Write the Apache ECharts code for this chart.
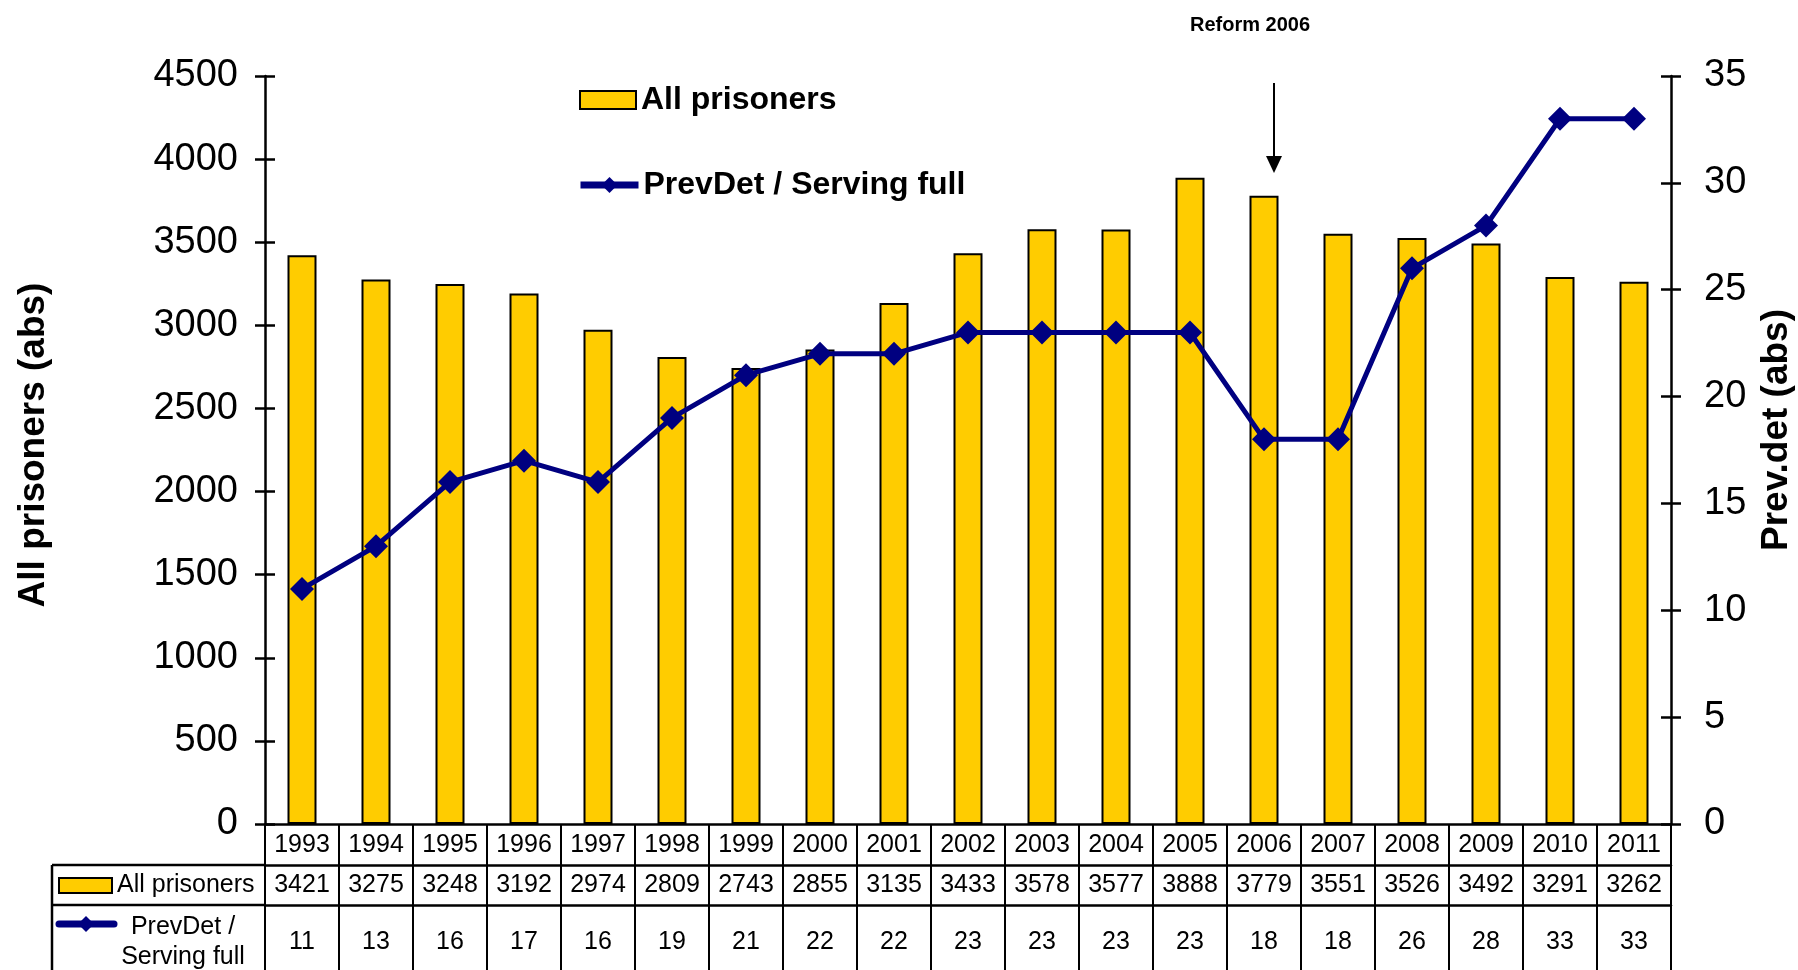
<!DOCTYPE html>
<html><head><meta charset="utf-8">
<script src="https://cdn.jsdelivr.net/npm/echarts@6/dist/echarts.min.js"></script>
<style>html,body{margin:0;padding:0;background:#fff}#c{width:1798px;height:970px}</style>
</head><body><div id="c"></div>
<script>
const years = ['1993','1994','1995','1996','1997','1998','1999','2000','2001','2002','2003','2004','2005','2006','2007','2008','2009','2010','2011'];
const allPrisoners = [3421,3275,3248,3192,2974,2809,2743,2855,3135,3433,3578,3577,3888,3779,3551,3526,3492,3291,3262];
const prevDet = [11,13,16,17,16,19,21,22,22,23,23,23,23,18,18,26,28,33,33];
const leftAxis = {min: 0, max: 4500, interval: 500};
const rightAxis = {min: 0, max: 35, interval: 5};
const barName = 'All prisoners';
const lineName = 'PrevDet / Serving full';
const reformLabel = 'Reform 2006';
const reformYear = '2006';

const FONT = 'Liberation Sans, Arial, sans-serif';
const BLACK = '#000';
const YELLOW = '#FFCC00';
const NAVY = '#000080';

const chart = echarts.init(document.getElementById('c'), null, {renderer: 'canvas'});

function xAx(offset, tickLen, margin, fmt) {
  return {
    type: 'category', data: years, position: 'bottom', offset: offset, boundaryGap: true,
    axisLine: {show: true, onZero: false, lineStyle: {color: BLACK, width: 2.5}},
    axisTick: {show: true, interval: 0, length: tickLen, lineStyle: {color: BLACK, width: 2}},
    axisLabel: {show: true, interval: 0, margin: margin, fontSize: 25, color: BLACK, fontFamily: FONT,
      formatter: fmt},
    splitLine: {show: false}
  };
}
function yAx(pos, cfg, showMain, labelMargin) {
  return {
    type: 'value', position: pos, min: cfg.min, max: cfg.max, interval: cfg.interval,
    axisLine: {show: showMain, lineStyle: {color: BLACK, width: 2.5}},
    axisTick: {show: true, inside: !showMain, length: 10, lineStyle: {color: BLACK, width: 2.5}},
    axisLabel: {show: showMain, margin: labelMargin, fontSize: 38, color: BLACK, fontFamily: FONT,
      formatter: v => String(v)},
    splitLine: {show: false}
  };
}

const option = {
  animation: false,
  backgroundColor: '#fff',
  textStyle: {fontFamily: FONT},
  grid: {left: 265, right: 127, top: 76, bottom: 146},
  legend: [
    {data: [{name: barName, icon: 'rect', itemStyle: {color: YELLOW, borderColor: BLACK, borderWidth: 2}}],
     left: 579, top: 84, padding: 0, itemWidth: 56, itemHeight: 18,
     textStyle: {fontSize: 32, fontWeight: 'bold', color: BLACK, fontFamily: FONT}},
    {data: [{name: lineName, itemStyle: {color: NAVY}, lineStyle: {color: NAVY, width: 7}}],
     left: 577, top: 169, padding: 0, itemWidth: 58, itemHeight: 20,
     textStyle: {fontSize: 32, fontWeight: 'bold', color: BLACK, fontFamily: FONT}}
  ],
  xAxis: [
    xAx(0, 41, 9, null),
    xAx(41, 40, 8, (v, i) => String(allPrisoners[i])),
    xAx(81, 90, 25, (v, i) => String(prevDet[i]))
  ],
  yAxis: [
    yAx('left', leftAxis, true, 27),
    yAx('right', rightAxis, true, 33),
    yAx('left', leftAxis, false, 0),
    yAx('right', rightAxis, false, 0)
  ],
  series: [
    {name: barName, type: 'bar', xAxisIndex: 0, yAxisIndex: 0, data: allPrisoners, barWidth: 29,
     itemStyle: {color: YELLOW, borderColor: BLACK, borderWidth: 2}},
    {name: lineName, type: 'line', xAxisIndex: 0, yAxisIndex: 1, data: prevDet,
     symbol: 'diamond', symbolSize: 24, z: 5,
     lineStyle: {color: NAVY, width: 5}, itemStyle: {color: NAVY}}
  ]
};
chart.setOption(option);

// Table left column and annotations, positioned from the axes
const c0 = chart.convertToPixel({xAxisIndex: 0}, years[0]);
const c1 = chart.convertToPixel({xAxisIndex: 0}, years[1]);
const bw = c1 - c0;
const gridL = c0 - bw / 2;
const base = chart.convertToPixel({yAxisIndex: 0}, 0);
const r1 = base + 41, r2 = base + 81;
const tabL = 52;
const cr = chart.convertToPixel({xAxisIndex: 0}, reformYear);

const ls = {stroke: BLACK, lineWidth: 2.5};
const graphics = [
  {type: 'line', shape: {x1: tabL, y1: r1, x2: gridL, y2: r1}, style: ls},
  {type: 'line', shape: {x1: tabL, y1: r2, x2: gridL, y2: r2}, style: ls},
  {type: 'line', shape: {x1: tabL, y1: r1, x2: tabL, y2: 990}, style: ls},
  {type: 'rect', shape: {x: tabL + 7, y: r1 + 13, width: 53, height: 15}, style: {fill: YELLOW, stroke: BLACK, lineWidth: 2}},
  {type: 'text', x: tabL + 65, y: r1 + 20, style: {text: barName, fontSize: 25, fill: BLACK, fontFamily: FONT, align: 'left', verticalAlign: 'middle'}},
  {type: 'line', shape: {x1: tabL + 7, y1: r2 + 19, x2: tabL + 62, y2: r2 + 19}, style: {stroke: NAVY, lineWidth: 7, lineCap: 'round'}},
  {type: 'polygon', shape: {points: [[tabL + 34, r2 + 11], [tabL + 42, r2 + 19], [tabL + 34, r2 + 27], [tabL + 26, r2 + 19]]}, style: {fill: NAVY}},
  {type: 'text', x: tabL + 131, y: r2 + 22, style: {text: 'PrevDet /', fontSize: 25, fill: BLACK, fontFamily: FONT, align: 'center', verticalAlign: 'middle'}},
  {type: 'text', x: tabL + 131, y: r2 + 52, style: {text: 'Serving full', fontSize: 25, fill: BLACK, fontFamily: FONT, align: 'center', verticalAlign: 'middle'}},
  // axis titles
  {type: 'text', x: 34, y: 445, rotation: Math.PI / 2, style: {text: 'All prisoners (abs)', fontSize: 37, fontWeight: 'bold', fill: BLACK, fontFamily: FONT, align: 'center', verticalAlign: 'middle'}},
  {type: 'text', x: 1777, y: 430, rotation: Math.PI / 2, style: {text: 'Prev.det (abs)', fontSize: 37, fontWeight: 'bold', fill: BLACK, fontFamily: FONT, align: 'center', verticalAlign: 'middle'}},
  // reform annotation
  {type: 'text', x: cr - 14, y: 25, style: {text: reformLabel, fontSize: 20, fontWeight: 'bold', fill: BLACK, fontFamily: FONT, align: 'center', verticalAlign: 'middle'}},
  {type: 'line', shape: {x1: cr + 10, y1: 83, x2: cr + 10, y2: 160}, style: {stroke: BLACK, lineWidth: 2}},
  {type: 'polygon', shape: {points: [[cr + 2, 156], [cr + 18, 156], [cr + 10, 173]]}, style: {fill: BLACK}}
];
chart.setOption({graphic: {elements: graphics}});
</script>
</body></html>
